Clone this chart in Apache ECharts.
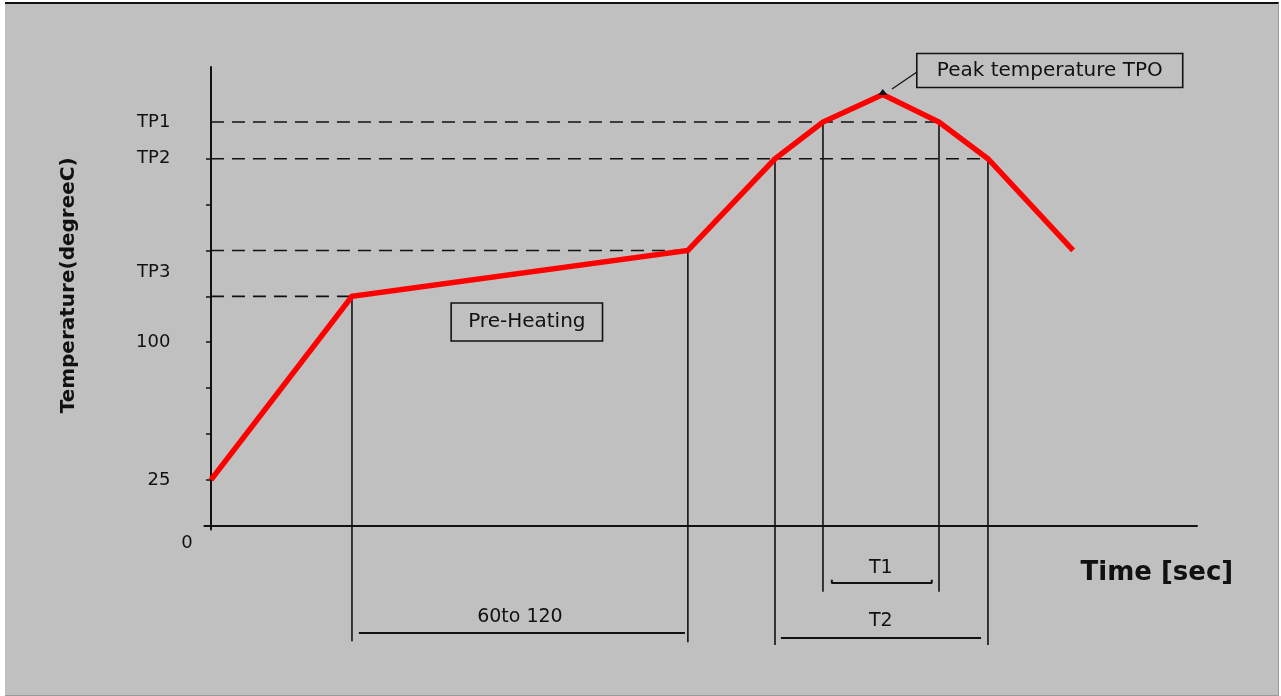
<!DOCTYPE html>
<html>
<head>
<meta charset="utf-8">
<script src="https://cdn.jsdelivr.net/npm/echarts@6/dist/echarts.min.js"></script>
<style>
  html, body { margin:0; padding:0; background:#ffffff; width:1281px; height:696px; overflow:hidden; }
  #panel { position:absolute; left:5px; top:2px; width:1273px; height:691px; background:#c0c0c0;
           border-top:2px solid #111; border-right:1px solid #9a9a9a; border-bottom:1px solid #9a9a9a; }
  #chart { position:absolute; left:0; top:0; width:1281px; height:696px; }
</style>
</head>
<body>
<div id="panel"></div>
<div id="chart"></div>
<script>
// ---- profile (time in s, temperature in degC) ----
const profileTime = [0, 42.9, 145.1, 171.6, 186.2, 204.4, 221.5, 236.4, 262.3];
const profileTemp = [25, 125, 150, 200, 220, 235, 220, 200, 150];

// ---- y axis ticks / labels ----
const yTickValues  = [0, 25, 50, 75, 100, 125, 150, 175, 200];
const yLabelValues = [25, 100, 138, 200, 220];
const yLabelTexts  = ['25', '100', 'TP3', 'TP2', 'TP1'];

// ---- dashed level lines ----
const levelTemps     = [220, 200, 150, 125];
const levelEndTimes  = [221.5, 236.4, 145.1, 42.9];
const levelStartTime = -6.4;

// ---- vertical drop lines ----
const dropTimes       = [42.9, 145.1, 171.6, 186.2, 221.5, 236.4];
const dropTopTemps    = [125, 150, 200, 220, 220, 200];
const dropBottomTemps = [-63, -63.5, -65, -36, -36, -65];

// ---- span brackets ----
const spanLabels    = ['60to 120', 'T1', 'T2'];
const spanStart     = [45.0, 188.9, 173.4];
const spanEnd       = [144.2, 219.3, 234.3];
const spanLineTemp  = [-58.5, -31.2, -61.2];
const spanTextTemp  = [-49.8, -23.2, -52.0];
const spanTextTime  = [94.0, 203.8, 203.8];

// ---- annotation texts ----
const peakLabel   = 'Peak temperature TPO';
const peakLabelAt = [255.2, 248.1];
const peakLeader  = [[207.2, 238], [214.8, 247.3]];
const preLabel    = 'Pre-Heating';
const preLabelAt  = [96.1, 111.0];
const xName       = 'Time [sec]';
const xNameAt     = [287.8, -25.8];
const yName       = 'Temperature(degreeC)';
const yNameAt     = [-43.3, 131.0];
const zeroLabel   = '0';
const zeroAt      = [-7.3, -9.4];

const FONT = 'DejaVu Sans';
const INK = '#111111';

function segment(points, width, type) {
  return {
    type: 'line', data: points, symbol: 'none', clip: false, silent: true,
    animation: false, z: 2,
    lineStyle: { color: INK, width: width, type: type || 'solid' }
  };
}

const series = [];

levelTemps.forEach((t, i) => {
  series.push(segment([[levelStartTime, t], [levelEndTimes[i], t]], 1.6, [13, 8]));
});
dropTimes.forEach((x, i) => {
  series.push(segment([[x, dropTopTemps[i]], [x, dropBottomTemps[i]]], 1.6));
});
spanLabels.forEach((name, i) => {
  let pts;
  if (name === 'T1') {
    pts = [[spanStart[i], spanLineTemp[i] + 1.8], [spanStart[i], spanLineTemp[i]],
           [spanEnd[i], spanLineTemp[i]], [spanEnd[i], spanLineTemp[i] + 1.8]];
  } else {
    pts = [[spanStart[i], spanLineTemp[i]], [spanEnd[i], spanLineTemp[i]]];
  }
  series.push(segment(pts, 2));
});
series.push(segment(peakLeader, 1.2));

// red reflow profile
series.push({
  type: 'line', name: 'profile', symbol: 'none', silent: true, animation: false, z: 5,
  data: profileTime.map((x, i) => [x, profileTemp[i]]),
  lineStyle: { color: '#ff0000', width: 5.5, join: 'miter' }
});

// peak marker
series.push({
  type: 'scatter', silent: true, animation: false, z: 6, clip: false,
  symbol: 'triangle', symbolSize: [9, 6], itemStyle: { color: INK, opacity: 1 },
  data: [[profileTime[5], profileTemp[5] + 1.4]]
});

// text annotations
function textItem(name, at, style) {
  return { name: name, value: at, label: Object.assign({ show: true, formatter: '{b}' }, style) };
}
const baseText = { color: INK, fontFamily: FONT, fontSize: 19, position: 'inside' };
const annotations = [
  textItem(peakLabel, peakLabelAt, Object.assign({}, baseText, {
    fontSize: 20, lineHeight: 22, borderColor: INK, borderWidth: 1.6, padding: [6, 20]
  })),
  textItem(preLabel, preLabelAt, Object.assign({}, baseText, {
    fontSize: 20, lineHeight: 22, borderColor: INK, borderWidth: 1.6, padding: [8, 17]
  })),
  textItem(xName, xNameAt, Object.assign({}, baseText, { fontSize: 26, fontWeight: 'bold' })),
  textItem(yName, yNameAt, Object.assign({}, baseText, { fontSize: 20, fontWeight: 'bold', rotate: 90 })),
  textItem(zeroLabel, zeroAt, Object.assign({}, baseText, { fontSize: 18 }))
];
spanLabels.forEach((name, i) => {
  annotations.push(textItem(name, [spanTextTime[i], spanTextTemp[i]], Object.assign({}, baseText, { fontSize: 19 })));
});
series.push({
  type: 'scatter', silent: true, animation: false, z: 7, clip: false,
  symbolSize: 0, itemStyle: { opacity: 1 }, data: annotations
});

const chart = echarts.init(document.getElementById('chart'), null, { renderer: 'canvas' });
chart.setOption({
  backgroundColor: 'transparent',
  animation: false,
  grid: { left: 204.4, right: 84, top: 67, bottom: 166.6, containLabel: false },
  xAxis: {
    type: 'value', min: -2, max: 300,
    axisLine: { show: true, onZero: true, lineStyle: { color: INK, width: 2 } },
    axisTick: { show: false }, axisLabel: { show: false }, splitLine: { show: false }
  },
  yAxis: {
    type: 'value', min: -2, max: 250,
    axisLine: { show: true, onZero: true, lineStyle: { color: INK, width: 2 } },
    axisTick: { show: true, length: 5, customValues: yTickValues, lineStyle: { color: INK, width: 1.5 } },
    axisLabel: {
      show: true, customValues: yLabelValues, margin: 34,
      color: INK, fontFamily: FONT, fontSize: 18,
      formatter: function (v) {
        const i = yLabelValues.indexOf(v);
        return i >= 0 ? yLabelTexts[i] : '';
      }
    },
    splitLine: { show: false }
  },
  series: series
});
</script>
</body>
</html>
